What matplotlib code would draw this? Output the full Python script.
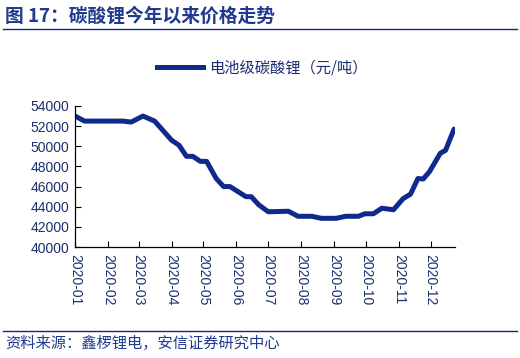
import matplotlib

matplotlib.use("Agg")
import matplotlib.dates as mdates
import matplotlib.pyplot as plt
import numpy as np
from matplotlib.lines import Line2D

plt.rcParams["font.family"] = ["Liberation Sans", "Noto Sans CJK SC", "DejaVu Sans"]

# lithium carbonate (battery grade) price, CNY/t
dates = np.array([
    "2020-01-01", "2020-01-10", "2020-01-20", "2020-02-01", "2020-02-15", "2020-02-23",
    "2020-03-05", "2020-03-16", "2020-04-01", "2020-04-08", "2020-04-15", "2020-04-21",
    "2020-04-28", "2020-05-04", "2020-05-13", "2020-05-20", "2020-05-26", "2020-06-10",
    "2020-06-15", "2020-06-22", "2020-07-01", "2020-07-20", "2020-07-29", "2020-08-11",
    "2020-08-20", "2020-09-03", "2020-09-12", "2020-09-24", "2020-09-30", "2020-10-08",
    "2020-10-16", "2020-10-27", "2020-11-05", "2020-11-12", "2020-11-19", "2020-11-24",
    "2020-11-30", "2020-12-10", "2020-12-15", "2020-12-23",
], dtype="datetime64[D]")
prices = [
    53000, 52500, 52500, 52500, 52500, 52400,
    53000, 52500, 50600, 50100, 49000, 49000,
    48500, 48500, 46800, 46000, 46000, 45000,
    45000, 44200, 43500, 43550, 43050, 43050,
    42850, 42850, 43050, 43050, 43300, 43300,
    43850, 43700, 44800, 45250, 46800, 46750,
    47500, 49300, 49600, 51700,
]
month_ticks = np.arange("2020-01", "2021-01", dtype="datetime64[M]").astype("datetime64[D]")
month_labels = [f"2020-{m:02d}" for m in range(1, 13)]
y_ticks = list(range(40000, 54001, 2000))

navy = "#1C2E6E"
line_blue = "#10298C"
rule_blue = "#0B2A80"

fig = plt.figure(figsize=(5.2, 3.58), dpi=100)
ax = fig.add_axes([0.1442, 0.310, 0.731, 0.394])

ax.plot(dates, prices, color=line_blue, lw=3.6, solid_joinstyle="round", solid_capstyle="round")

ax.set_xlim(np.datetime64("2020-01-01"), np.datetime64("2020-12-24"))
ax.set_ylim(40000, 54000)
ax.set_yticks(y_ticks)
ax.set_yticklabels([str(v) for v in y_ticks], fontsize=10, color=navy)
ax.set_xticks(month_ticks)
ax.set_xticklabels(month_labels, rotation=270, fontsize=10, color=navy)
ax.tick_params(direction="in", length=4, width=0.8, pad=4)
ax.tick_params(axis="x", pad=5)
for side in ("top", "right"):
    ax.spines[side].set_visible(False)
for side in ("left", "bottom"):
    ax.spines[side].set_linewidth(0.9)

handle = Line2D([], [], color=line_blue, lw=3.6)
fig.legend([handle], ["电池级碳酸锂（元/吨）"], loc="center", bbox_to_anchor=(0.505, 0.81),
           frameon=False, handlelength=3.0, handletextpad=0.4,
           prop={"family": ["Noto Sans CJK SC"], "size": 11}, labelcolor=navy)

fig.text(0.01, 0.955, "图 17：碳酸锂今年以来价格走势", fontsize=13.5, fontweight="bold",
         color="#1F3A8F", family=["Noto Sans CJK SC"], va="center")
fig.add_artist(Line2D([0.006, 0.994], [0.918, 0.918], color=rule_blue, lw=1.0))
fig.add_artist(Line2D([0.006, 0.994], [0.075, 0.075], color=rule_blue, lw=1.0))
fig.text(0.01, 0.04, "资料来源：鑫椤锂电，安信证券研究中心", fontsize=11, color="#1F3A8F",
         family=["Noto Sans CJK SC"], va="center", style="italic")

fig.savefig("out.png", dpi=100)
